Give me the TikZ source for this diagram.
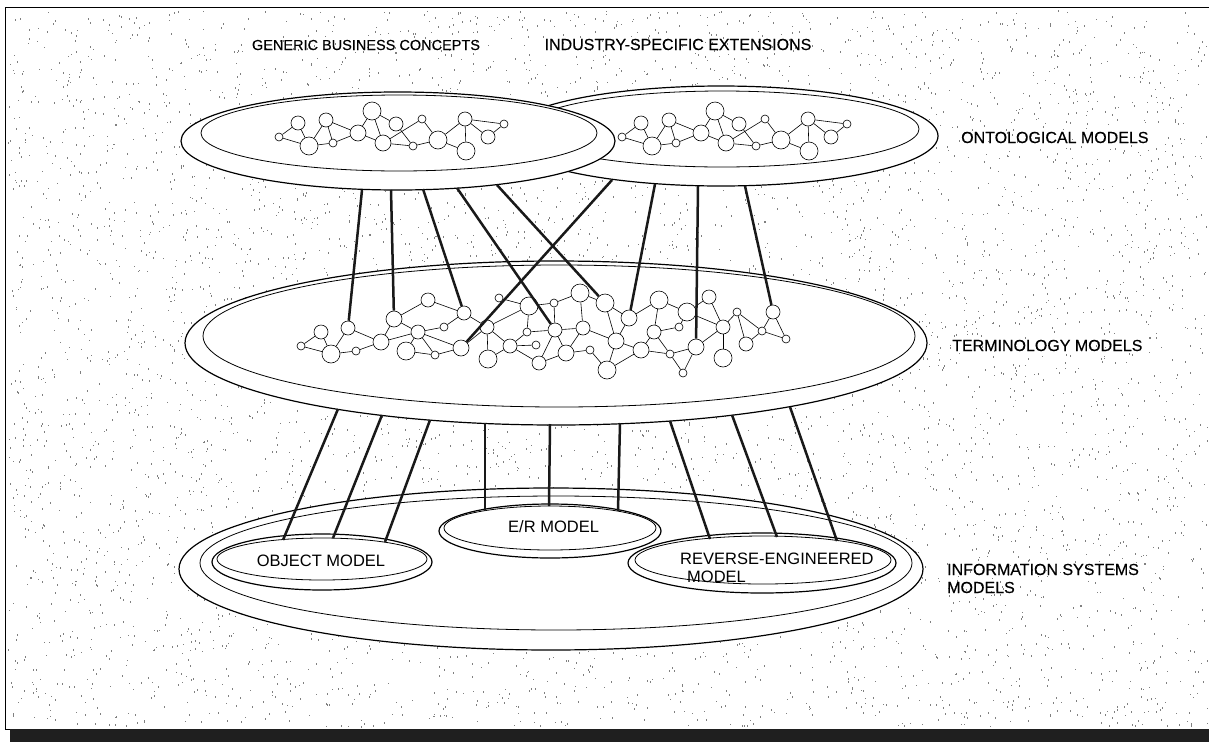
\documentclass[tikz,border=0pt]{standalone}
\usepackage{fontspec}
\setmainfont{Liberation Sans}
\newfontfamily\heavylabel[FakeBold=0.35]{Liberation Sans}
\begin{document}
\begin{tikzpicture}[x=1pt,y=-1pt,
  disk/.style={draw=black, line width=1.2pt, fill=white},
  rim/.style={draw=black, line width=0.8pt},
  gn/.style={circle, draw=black, line width=0.6pt, fill=white, inner sep=0pt, minimum size=#1},
  ge/.style={line width=0.6pt},
  link/.style={line width=2.5pt, black!90},
  lbl/.style={font=\heavylabel\fontsize{16}{18}\selectfont, inner sep=0pt},
  tlbl/.style={font=\heavylabel\fontsize{14.5}{17}\selectfont, inner sep=0pt},
  ilbl/.style={font=\fontsize{16.5}{19}\selectfont, inner sep=0pt},
]
\useasboundingbox (0,0) rectangle (1209,742);
\fill[white] (0,0) rectangle (1209,742);
% stipple background
\pgfmathsetseed{12345}
\foreach \k in {1,...,6000}{
  \pgfmathsetmacro{\sx}{607+600*rand}
  \pgfmathsetmacro{\sy}{368+358*rand}
  \fill[black!50] (\sx,\sy) rectangle ++(0.9,1.6);
}
% frame and dark band
\draw[line width=0.9pt] (5,729) -- (5,7) -- (1209,7);
\draw[line width=0.9pt] (5,729) -- (1209,729);
\fill[black!88] (10,729) rectangle (1209,742);

\newcommand{\mytopgraph}[2]{%
\begin{scope}[xshift=#2]
\foreach \i/\x/\y/\d in {1/279/137/8, 2/298/123/14, 3/309/146/18, 4/326/120/14,
  5/333/143/8, 6/358/133/16, 7/372/111/18, 8/383/143/16, 9/396/124/14,
  10/413/146/8, 11/422/119/8, 12/438/140/18, 13/465/119/14, 14/466/151/18,
  15/488/137/14, 16/504/124/8}
  \node[gn=\d] (#1\i) at (\x,\y) {};
\foreach \a/\b in {1/2,1/3,2/3,3/4,3/5,4/5,4/6,5/6,6/7,6/8,7/8,7/9,9/10,8/10,
  8/11,11/12,10/12,12/13,13/14,12/14,13/16,13/15,15/16}
  \draw[ge] (#1\a) -- (#1\b);
\end{scope}}

% ---- ontological models (top) ----
\draw[disk] (721,136) ellipse [x radius=217pt, y radius=50pt];
\draw[rim] (722,129) ellipse [x radius=197pt, y radius=38pt];
\mytopgraph{r}{343pt}
\draw[disk] (398,141) ellipse [x radius=217pt, y radius=49pt];
\draw[rim] (399,133) ellipse [x radius=198pt, y radius=38pt];
\mytopgraph{l}{0pt}

\node[tlbl, anchor=base] (gbc) at (366,50) {GENERIC BUSINESS CONCEPTS};
\node[lbl, anchor=base] (ise) at (678,50) {INDUSTRY-SPECIFIC EXTENSIONS};
\node[lbl, anchor=base west] (onto) at (961,143) {ONTOLOGICAL MODELS};

% connector start points on top disks
\coordinate (t1) at (362,190);
\coordinate (t2) at (391,190);
\coordinate (t3) at (423,189);
\coordinate (t4) at (457,188);
\coordinate (t5) at (497,185);
\coordinate (t6) at (612,180);
\coordinate (t7) at (655,184);
\coordinate (t8) at (698,186);
\coordinate (t9) at (745,186);

% ---- terminology models (middle) ----
\draw[disk] (556,343) ellipse [x radius=371pt, y radius=82pt];
\draw[rim] (559,336) ellipse [x radius=356pt, y radius=71pt];
\node[lbl, anchor=base west] (term) at (952,351) {TERMINOLOGY MODELS};

\foreach \i/\x/\y/\d in {1/301/346/8, 2/321/332/14, 3/331/354/18, 4/348/328/14,
  5/356/351/8, 6/381/342/16, 7/394/319/16, 8/406/351/18, 9/418/332/14,
  10/428/300/14, 11/435/355/8, 12/444/327/8, 13/464/313/14, 14/461/348/16,
  15/487/327/14, 16/499/298/8, 17/488/359/18, 18/510/346/14, 19/529/306/18,
  20/527/332/8, 21/536/345/8, 22/554/303/8, 23/555/330/14, 24/580/293/18,
  25/583/328/14, 26/539/363/14, 27/566/353/16, 28/590/350/8, 29/605/303/18,
  30/616/341/16, 31/607/370/18, 32/629/318/16, 33/659/300/18, 34/654/332/14,
  35/641/350/16, 36/687/312/18, 37/679/327/8, 38/670/354/8, 39/709/297/14,
  40/696/347/16, 41/683/373/8, 42/723/327/14, 43/723/358/18, 44/737/312/8,
  45/746/344/14, 46/762/331/8, 47/773/312/14, 48/786/339/8}
  \node[gn=\d] (b\i) at (\x,\y) {};
\foreach \a/\b in {1/2,1/3,2/3,3/4,3/5,4/6,5/6,6/7,6/9,7/10,7/9,9/12,9/8,9/11,
  9/14,8/11,11/14,10/13,12/13,13/15,14/15,15/17,15/19,15/18,16/19,18/21,18/20,
  19/20,19/22,20/23,22/23,22/24,23/25,23/26,23/27,26/27,27/25,24/25,27/28,
  18/26,17/18,24/29,25/30,28/31,29/30,29/32,30/32,30/35,30/31,32/33,33/34,
  33/36,34/37,34/35,34/38,35/38,37/36,38/40,40/41,41/38,36/42,39/42,40/42,
  42/43,42/44,44/45,44/46,45/46,46/47,47/48,46/48,35/31,39/36}
  \draw[ge] (b\a) -- (b\b);

% connectors ontological -> terminology
\draw[link] (t1) -- (b4);
\draw[link] (t2) -- (b7);
\draw[link] (t3) -- (b13);
\draw[link] (t4) -- (b23);
\draw[link] (t5) -- (b29);
\draw[link] (t6) -- (b14);
\draw[link] (t7) -- (b32);
\draw[link] (t8) -- (b40);
\draw[link] (t9) -- (b47);

% connector start points on terminology disk
\coordinate (u1) at (338,409);
\coordinate (u2) at (382,415);
\coordinate (u3) at (430,420);
\coordinate (u4) at (485,423);
\coordinate (u5) at (550,424);
\coordinate (u6) at (620,423);
\coordinate (u7) at (670,421);
\coordinate (u8) at (732,415);
\coordinate (u9) at (790,407);

% ---- information systems models (bottom) ----
\draw[disk] (551,569) ellipse [x radius=372pt, y radius=81pt];
\draw[rim] (556,563) ellipse [x radius=356pt, y radius=67pt];
\node[lbl, anchor=base west] (info1) at (947,575) {INFORMATION SYSTEMS};
\node[lbl, anchor=base west] (info2) at (947,593) {MODELS};

\draw[disk] (322,562) ellipse [x radius=110pt, y radius=28pt];
\draw[rim] (322,559) ellipse [x radius=105pt, y radius=21pt];
\node[ilbl, anchor=base] (obj) at (321,566) {OBJECT MODEL};

\draw[disk] (550,531) ellipse [x radius=111pt, y radius=27pt];
\draw[rim] (550,528) ellipse [x radius=106pt, y radius=22pt];
\node[ilbl, anchor=base west] (er) at (508,532) {E/R MODEL};

\draw[disk] (762,563) ellipse [x radius=134pt, y radius=30pt];
\draw[rim] (763,560) ellipse [x radius=128pt, y radius=24pt];
\node[ilbl, anchor=base west] (rev1) at (680,564) {REVERSE-ENGINEERED};
\node[ilbl, anchor=base west] (rev2) at (687,582) {MODEL};

% connector end points on the sub-model disks
\coordinate (v1) at (283,540);
\coordinate (v2) at (333,538);
\coordinate (v3) at (385,542);
\coordinate (v4) at (485,511);
\coordinate (v5) at (549,506);
\coordinate (v6) at (618,511);
\coordinate (v7) at (710,539);
\coordinate (v8) at (777,537);
\coordinate (v9) at (837,541);

% connectors terminology -> information systems
\draw[link] (u1) -- (v1);
\draw[link] (u2) -- (v2);
\draw[link] (u3) -- (v3);
\draw[link] (u4) -- (v4);
\draw[link] (u5) -- (v5);
\draw[link] (u6) -- (v6);
\draw[link] (u7) -- (v7);
\draw[link] (u8) -- (v8);
\draw[link] (u9) -- (v9);
\end{tikzpicture}
\end{document}
